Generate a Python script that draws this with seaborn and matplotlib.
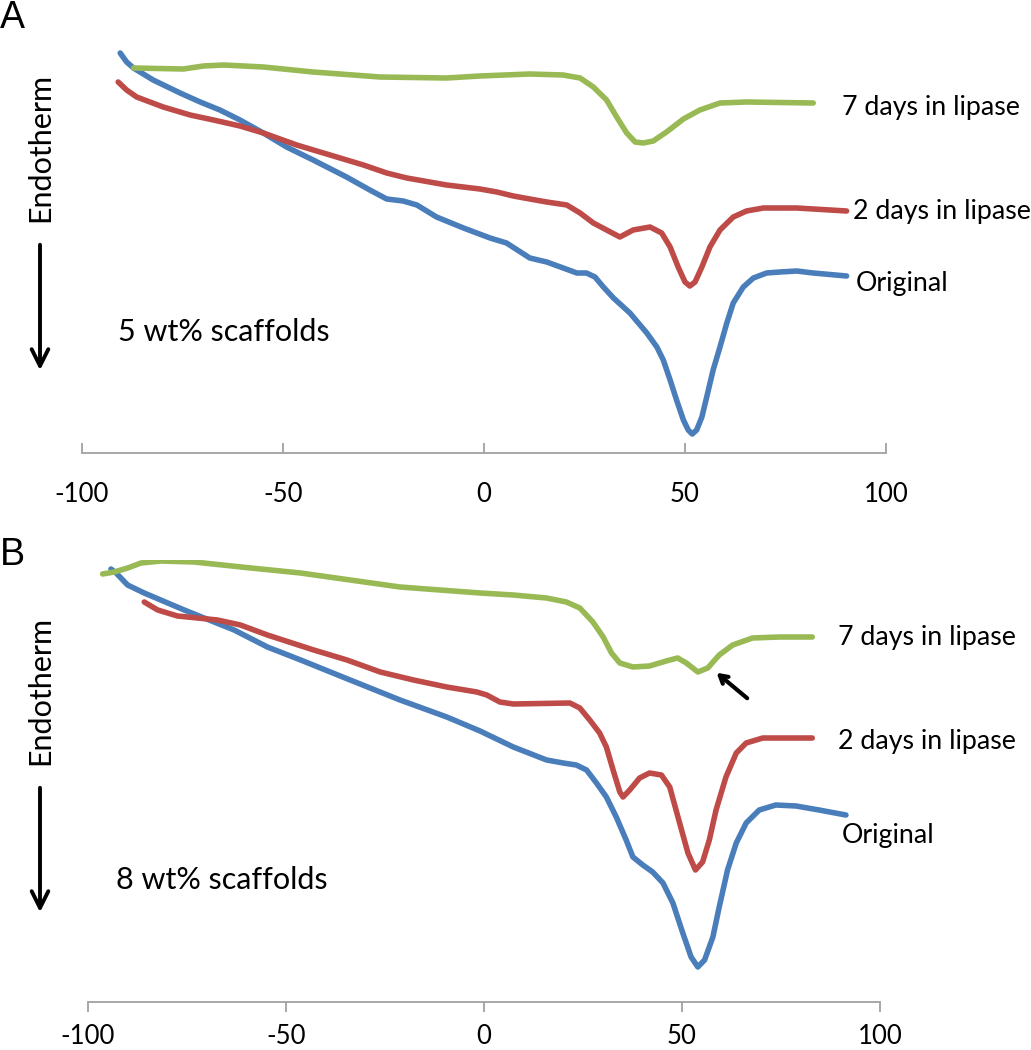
import matplotlib
matplotlib.use("Agg")
import matplotlib.pyplot as plt
import pandas as pd
import seaborn as sns

# Panel A (5 wt% scaffolds): temperature (C) and heat flow (arbitrary units, endotherm down)
a_orig_t = [-90.5, -88.9, -87.2, -82.3, -75.6, -70.6, -65.7, -60.7, -54.9, -49.1, -42.5, -34.2,
            -28.4, -24.2, -20.1, -16.7, -11.8, -5.1, 1.5, 5.6, 11.4, 15.6, 19.7, 23.1, 25.5, 27.6,
            29.7, 32.2, 36.3, 40.5, 43.0, 44.6, 46.3, 47.9, 49.6, 50.8, 51.8, 52.9, 54.2, 55.4,
            57.0, 58.7, 60.4, 62.0, 64.5, 67.0, 70.3, 73.6, 77.8, 81.9, 90.2]
a_orig_y = [400, 391, 385, 373, 360, 351, 343, 333, 320, 306, 293, 276,
            263, 254, 252, 248, 236, 225, 215, 210, 195, 191, 185, 180, 180, 176,
            166, 155, 140, 120, 106, 93, 73, 53, 33, 23, 19, 23, 36, 56,
            83, 106, 130, 150, 166, 175, 180, 181, 182, 180, 177]
a_2d_t = [-91.0, -88.9, -86.4, -79.8, -73.1, -67.3, -60.7, -54.9, -46.6, -38.3, -30.0, -24.2,
          -19.2, -9.3, -1.0, 3.2, 7.3, 11.4, 15.6, 20.6, 23.9, 27.2, 30.5, 33.8, 37.1, 41.3,
          44.2, 46.3, 48.3, 50.0, 51.2, 52.5, 54.2, 56.2, 58.7, 62.0, 65.3, 69.5, 77.8, 90.2]
a_2d_y = [371, 363, 356, 346, 338, 333, 327, 320, 308, 298, 288, 280,
          275, 268, 264, 261, 257, 254, 251, 248, 240, 230, 223, 216, 223, 226,
          220, 206, 186, 171, 167, 171, 186, 206, 223, 236, 242, 245, 245, 242]
a_7d_t = [-87.2, -74.8, -69.8, -64.8, -54.9, -42.5, -25.9, -9.3, -1.0, 11.4, 19.7, 23.9, 27.2,
          30.5, 33.0, 35.5, 37.6, 39.6, 42.1, 45.4, 49.6, 53.7, 58.7, 65.3, 81.9]
a_7d_y = [385, 384, 387, 388, 386, 381, 376, 375, 377, 379, 378, 375, 366,
          353, 336, 320, 311, 310, 312, 321, 334, 343, 350, 351, 350]

# Panel B (8 wt% scaffolds)
b_orig_t = [-94.2, -92.9, -90.0, -85.8, -75.7, -63.1, -54.7, -46.3, -33.8, -21.2, -9.4, -1.0,
            7.4, 15.8, 20.0, 23.3, 25.9, 28.4, 30.9, 33.4, 35.9, 37.6, 40.1, 42.6, 45.2, 47.7,
            50.2, 52.3, 54.0, 55.7, 57.8, 59.4, 61.5, 63.7, 66.2, 69.5, 73.7, 78.8, 84.6, 91.4]
b_orig_y = [433, 429, 417, 409, 392, 372, 355, 342, 322, 302, 285, 271,
            255, 242, 239, 237, 232, 219, 205, 185, 162, 145, 137, 130, 119, 99,
            69, 45, 35, 42, 65, 95, 132, 159, 179, 192, 197, 196, 192, 187]
b_2d_t = [-85.8, -82.4, -77.4, -67.3, -61.5, -54.7, -43.0, -34.6, -26.2, -17.8, -9.4, -1.8,
          0.7, 4.0, 7.4, 21.7, 24.2, 26.7, 29.2, 30.9, 32.6, 34.3, 35.1, 36.8, 39.3, 41.8,
          44.8, 46.9, 49.4, 51.5, 53.4, 55.2, 56.9, 58.6, 61.1, 63.7, 66.2, 70.4, 82.9]
b_2d_y = [400, 392, 386, 382, 377, 367, 352, 342, 330, 322, 315, 310,
          307, 300, 298, 299, 294, 282, 269, 255, 232, 210, 205, 212, 224, 229,
          227, 215, 179, 149, 132, 140, 162, 192, 225, 249, 259, 264, 264]
b_7d_t = [-96.3, -93.4, -90.0, -86.6, -81.6, -73.2, -58.9, -46.3, -33.8, -21.2, -1.0, 7.4,
          15.8, 20.8, 24.2, 27.5, 30.1, 32.2, 34.3, 37.6, 41.8, 46.0, 48.9, 51.1, 54.0, 56.5,
          59.4, 62.8, 67.8, 74.6, 82.9]
b_7d_y = [428, 430, 434, 439, 441, 440, 434, 429, 422, 415, 409, 407,
          404, 400, 394, 380, 365, 349, 339, 335, 336, 341, 344, 339, 330, 334,
          347, 357, 364, 365, 365]

series_names = ["Original", "2 days in lipase", "7 days in lipase"]
x_ticks = [-100, -50, 0, 50, 100]
palette = {"Original": "#4a7ebb", "2 days in lipase": "#be4b48", "7 days in lipase": "#98b954"}


def make_frame(curves):
    parts = []
    for name, (t, y) in zip(series_names, curves):
        parts.append(pd.DataFrame({"T": t, "heat": y, "sample": name}))
    return pd.concat(parts, ignore_index=True)


frame_a = make_frame([(a_orig_t, a_orig_y), (a_2d_t, a_2d_y), (a_7d_t, a_7d_y)])
frame_b = make_frame([(b_orig_t, b_orig_y), (b_2d_t, b_2d_y), (b_7d_t, b_7d_y)])

sns.set_style("white")
plt.rcParams["font.family"] = ["Lato", "DejaVu Sans"]
plt.rcParams["text.color"] = "black"

W, H = 1031, 1050
fig = plt.figure(figsize=(W / 100, H / 100), dpi=100)


def fx(px):
    return px / W


def fy(py):
    return 1 - py / H


ax_a = fig.add_axes([fx(82), fy(453), fx(886) - fx(82), 413 / H])
ax_b = fig.add_axes([fx(88), fy(1002), fx(880) - fx(88), 442 / H])

for ax, frame, top, tdir in [(ax_a, frame_a, 413, "in"), (ax_b, frame_b, 442, "out")]:
    sns.lineplot(data=frame, x="T", y="heat", hue="sample", palette=palette, hue_order=series_names,
                 sort=False, estimator=None, linewidth=4.0, legend=False, ax=ax)
    for line in ax.lines:
        line.set_solid_joinstyle("round")
        line.set_solid_capstyle("round")
    ax.set_xlim(-100, 100)
    ax.set_ylim(0, top)
    ax.set_xticks(x_ticks)
    ax.set_xticklabels([str(v) for v in x_ticks])
    ax.set_yticks([])
    ax.set_xlabel("")
    ax.set_ylabel("")
    for side in ["top", "right", "left"]:
        ax.spines[side].set_visible(False)
    ax.spines["bottom"].set_color("#a0a0a0")
    ax.spines["bottom"].set_linewidth(1.3)
    ax.patch.set_alpha(0)
    ax.tick_params(axis="x", direction=tdir, length=7, width=1.3, color="#a0a0a0",
                   labelsize=18.5, labelcolor="black", pad=21 if tdir == "in" else 9, bottom=True)

# arrow pointing at the small melting shoulder in panel B
ax_b.annotate("", xy=(58.2, 331), xytext=(67.0, 302),
              arrowprops=dict(arrowstyle="->,head_length=0.55,head_width=0.32", lw=3.0, color="black"))

text_kw = dict(fontsize=19.3, va="center", ha="left", color="black")
fig.text(fx(842), fy(108), "7 days in lipase", **text_kw)
fig.text(fx(853), fy(212), "2 days in lipase", **text_kw)
fig.text(fx(856), fy(283), "Original", **text_kw)
fig.text(fx(838), fy(638), "7 days in lipase", **text_kw)
fig.text(fx(838), fy(742), "2 days in lipase", **text_kw)
fig.text(fx(842), fy(835), "Original", **text_kw)
fig.text(fx(118), fy(332), "5 wt% scaffolds", fontsize=22, va="center", ha="left")
fig.text(fx(116), fy(880), "8 wt% scaffolds", fontsize=22, va="center", ha="left")

for cy, y0, y1 in [(147, 242, 373), (690, 785, 915)]:
    fig.text(fx(40), fy(cy), "Endotherm", rotation=90, fontsize=22, ha="center", va="center")
    fig.add_artist(matplotlib.patches.FancyArrowPatch(
        (fx(40), fy(y0)), (fx(40), fy(y1)), transform=fig.transFigure,
        arrowstyle="->,head_length=12,head_width=6", lw=2.8, color="black"))

fig.text(fx(0), fy(18), "A", fontsize=27, family="Liberation Sans", ha="left", va="center")
fig.text(fx(0), fy(555), "B", fontsize=27, family="Liberation Sans", ha="left", va="center")

fig.savefig("out.png", dpi=100)
